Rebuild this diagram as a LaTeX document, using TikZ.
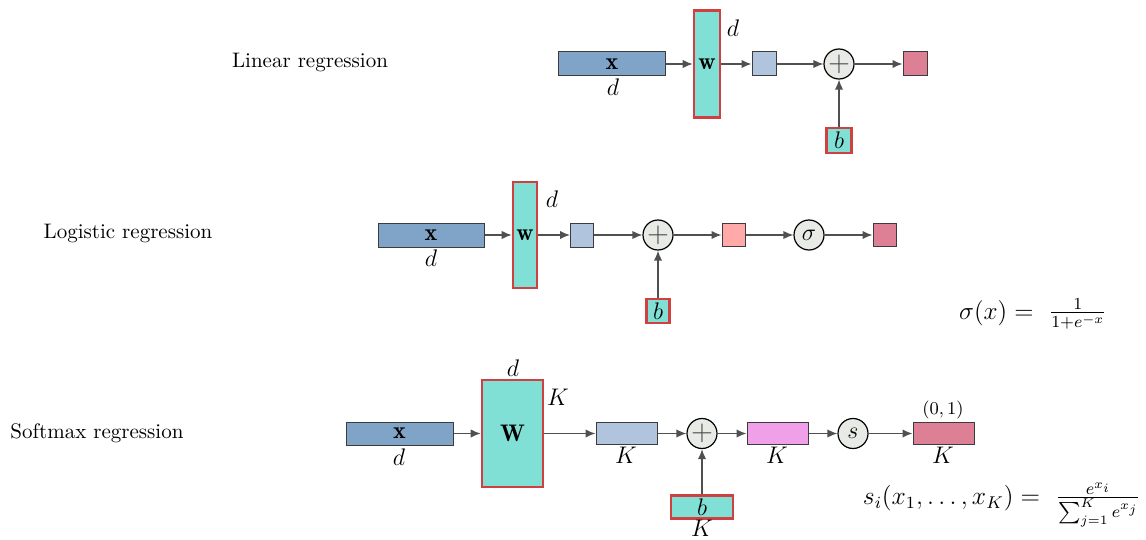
\documentclass[tikz,border=0pt]{standalone}
\usepackage{fontspec}
\usepackage{graphicx}
\usetikzlibrary{arrows.meta}
\definecolor{xblue}{RGB}{128,163,200}
\definecolor{lblue}{RGB}{176,196,222}
\definecolor{tealf}{RGB}{128,224,213}
\definecolor{redline}{RGB}{208,64,64}
\definecolor{opfill}{RGB}{232,234,230}
\definecolor{outpink}{RGB}{221,127,149}
\definecolor{salmon}{RGB}{255,170,168}
\definecolor{violetf}{RGB}{240,160,232}
\definecolor{boxline}{RGB}{60,60,60}
\definecolor{arrowgray}{RGB}{80,80,80}
\definecolor{plusgray}{RGB}{70,70,70}
\begin{document}
\begin{tikzpicture}[x=0.5pt,y=-0.5pt,
  mfont/.style={font=\fontsize{12}{14}\selectfont},
  box/.style={draw=boxline, line width=0.5pt, inner sep=0pt, mfont},
  param/.style={draw=redline, line width=1.3pt, fill=tealf, inner sep=0pt, mfont},
  op/.style={circle, draw=black, line width=0.6pt, fill=opfill, minimum size=15pt, inner sep=0pt, mfont},
  plusop/.style={op, font=\fontsize{14.4}{16}\selectfont, text=plusgray},
  arr/.style={draw=arrowgray, line width=0.75pt, -{Latex[length=5pt,width=4.2pt]}},
  lab/.style={inner sep=0pt, mfont},
  title/.style={inner sep=0pt, font=\fontsize{10.5}{12}\selectfont},
  formula/.style={inner sep=0pt, font=\fontsize{12}{14}\selectfont}]
\useasboundingbox (0,0) rectangle (1146,540);

% ---------- Linear regression ----------
\node[title] (t1) at (310,62) {Linear regression};
\node[box, fill=xblue, minimum width=53.5pt, minimum height=12pt] (x1) at (612,64) {$\mathbf{x}$};
\node[param, minimum width=13pt, minimum height=53.5pt] (w1) at (707,64) {$\mathbf{w}$};
\node[box, fill=lblue, minimum width=12pt, minimum height=12pt] (s1) at (764,64) {};
\node[plusop] (p1) at (839,64) {$+$};
\node[box, fill=outpink, minimum width=12pt, minimum height=12pt] (o1) at (915,64) {};
\node[param, minimum width=12.5pt, minimum height=12.5pt] (b1) at (839,140.5) {$b$};
\node[lab] (d1a) at (613,87) {$d$};
\node[lab] (d1b) at (733,28) {$d$};
\draw[arr] (x1) -- (w1);
\draw[arr] (w1) -- (s1);
\draw[arr] (s1) -- (p1);
\draw[arr] (p1) -- (o1);
\draw[arr] (b1) -- (p1);

% ---------- Logistic regression ----------
\node[title] (t2) at (128,233) {Logistic regression};
\node[box, fill=xblue, minimum width=53pt, minimum height=12pt] (x2) at (431,235) {$\mathbf{x}$};
\node[param, minimum width=12pt, minimum height=53pt] (w2) at (525,235) {$\mathbf{w}$};
\node[box, fill=lblue, minimum width=11.5pt, minimum height=12pt] (s2) at (582,235) {};
\node[plusop] (p2) at (658,235) {$+$};
\node[box, fill=salmon, minimum width=11.5pt, minimum height=11.5pt] (q2) at (733.5,235) {};
\node[op] (g2) at (809,235) {$\sigma$};
\node[box, fill=outpink, minimum width=11.5pt, minimum height=11.5pt] (o2) at (884.5,235) {};
\node[param, minimum width=11.5pt, minimum height=12pt] (b2) at (658,311) {$b$};
\node[lab] (d2a) at (431,258) {$d$};
\node[lab] (d2b) at (552,199) {$d$};
\draw[arr] (x2) -- (w2);
\draw[arr] (w2) -- (s2);
\draw[arr] (s2) -- (p2);
\draw[arr] (p2) -- (q2);
\draw[arr] (q2) -- (g2);
\draw[arr] (g2) -- (o2);
\draw[arr] (b2) -- (p2);
\node[formula] (f1) at (1033,314) {\scalebox{1.05}{$\sigma(x) =\ \frac{1}{1+e^{-x}}$}};

% ---------- Softmax regression ----------
\node[title] (t3) at (97,433) {Softmax regression};
\node[box, fill=xblue, minimum width=53.5pt, minimum height=11.5pt] (x3) at (399.5,433.5) {$\mathbf{x}$};
\node[param, minimum width=30.5pt, minimum height=53.5pt] (w3) at (512.5,433.5) {$\mathbf{W}$};
\node[box, fill=lblue, minimum width=30.5pt, minimum height=11pt] (s3) at (626.5,433.5) {};
\node[plusop] (p3) at (702,433.5) {$+$};
\node[box, fill=violetf, minimum width=30.5pt, minimum height=11pt] (m3) at (777.5,433.5) {};
\node[op] (g3) at (853,433.5) {$s$};
\node[box, fill=outpink, minimum width=30.5pt, minimum height=11pt] (o3) at (943.5,433.5) {};
\node[param, minimum width=31pt, minimum height=11.5pt] (b3) at (702,507) {$b$};
\node[lab] (d3a) at (399,457) {$d$};
\node[lab] (d3b) at (513,368) {$d$};
\node[lab] (k3a) at (558,397) {$K$};
\node[lab] (k3b) at (626,455) {$K$};
\node[lab] (k3c) at (777,455) {$K$};
\node[lab] (k3d) at (943,455) {$K$};
\node[lab] (k3e) at (702,528.5) {$K$};
\node[inner sep=0pt, font=\fontsize{9}{10}\selectfont] (r3) at (943,410) {$(0,1)$};
\draw[arr] (x3) -- (w3);
\draw[arr] (w3) -- (s3);
\draw[arr] (s3) -- (p3);
\draw[arr] (p3) -- (m3);
\draw[arr] (m3) -- (g3);
\draw[arr] (g3) -- (o3);
\draw[arr] (b3) -- (p3);
\node[formula] (f2) at (1002,505) {\scalebox{1.065}{$s_i(x_1,\dots,x_K) =\ \frac{e^{x_i}}{\sum_{j=1}^K e^{x_j}}$}};
\end{tikzpicture}
\end{document}
